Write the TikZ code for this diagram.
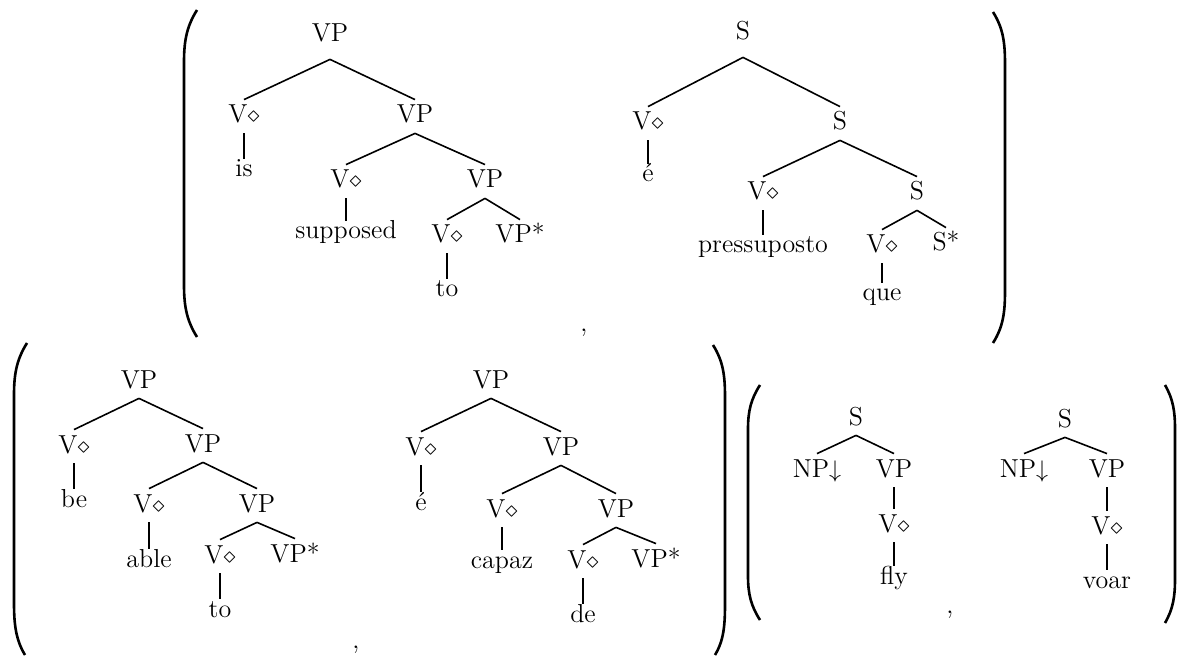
\documentclass[tikz,border=0pt]{standalone}
\usepackage{tikz}

\begin{document}
\begin{tikzpicture}[x=0.5pt,y=-0.5pt,font=\fontsize{13}{15}\selectfont,
 t/.style={anchor=base,inner sep=2.5pt,text height=9pt,text depth=2.5pt},
 w/.style={t,text height=6.5pt},
 top/.style={t,text depth=6pt},
 e/.style={line width=0.8pt},
 br/.style={line width=1.3pt}]
\useasboundingbox (0,0) rectangle (1177,657);
% is supposed to
\node[top] (a0) at (330,42) {VP};
\node[t] (a1) at (244,123) {V$\diamond$};
\node[w] (a2) at (244,177) {is};
\node[t] (a3) at (415,123) {VP};
\node[t] (a4) at (346,188) {V$\diamond$};
\node[w] (a5) at (346,239) {supposed};
\node[t] (a6) at (485,188) {VP};
\node[t] (a7) at (447,243) {V$\diamond$};
\node[t] (a8) at (520,243) {VP*};
\node[w] (a9) at (447,297) {to};
\draw[e] (a0.south) -- (a1.north) (a0.south) -- (a3.north);
\draw[e] (a3.south) -- (a4.north) (a3.south) -- (a6.north);
\draw[e] (a6.south) -- (a7.north) (a6.south) -- (a8.north);
\draw[e] (a1.south) -- (a2.north) (a4.south) -- (a5.north) (a7.south) -- (a9.north);
% e pressuposto que
\node[top] (b0) at (743,40) {S};
\node[t] (b1) at (648,130) {V$\diamond$};
\node[w] (b2) at (648,182) {é};
\node[t] (b3) at (840,130) {S};
\node[t] (b4) at (763,200) {V$\diamond$};
\node[w] (b5) at (763,253) {pressuposto};
\node[t] (b6) at (917,200) {S};
\node[t] (b7) at (882,253) {V$\diamond$};
\node[t] (b8) at (946,251) {S*};
\node[w] (b9) at (882,301) {que};
\draw[e] (b0.south) -- (b1.north) (b0.south) -- (b3.north);
\draw[e] (b3.south) -- (b4.north) (b3.south) -- (b6.north);
\draw[e] (b6.south) -- (b7.north) (b6.south) -- (b8.north);
\draw[e] (b1.south) -- (b2.north) (b4.south) -- (b5.north) (b7.south) -- (b9.north);
\node[anchor=base] (k1) at (584,332) {,};
\draw[br] (197,10) .. controls (187,26) and (184,40) .. (184,62) -- (184,285) .. controls (184,307) and (187,321) .. (197,337);
\draw[br] (993,12) .. controls (1003,28) and (1005,42) .. (1005,64) -- (1005,291) .. controls (1005,313) and (1003,327) .. (993,343);
% be able to
\node[t] (c0) at (139,388) {VP};
\node[t] (c1) at (74,453) {V$\diamond$};
\node[w] (c2) at (74,507) {be};
\node[t] (c3) at (203,452) {VP};
\node[t] (c4) at (149,512) {V$\diamond$};
\node[w] (c5) at (149,567) {able};
\node[t] (c6) at (257,512) {VP};
\node[t] (c7) at (220,563) {V$\diamond$};
\node[t] (c8) at (295,562) {VP*};
\node[w] (c9) at (220,617) {to};
\draw[e] (c0.south) -- (c1.north) (c0.south) -- (c3.north);
\draw[e] (c3.south) -- (c4.north) (c3.south) -- (c6.north);
\draw[e] (c6.south) -- (c7.north) (c6.south) -- (c8.north);
\draw[e] (c1.south) -- (c2.north) (c4.south) -- (c5.north) (c7.south) -- (c9.north);
% e capaz de
\node[t] (d0) at (491,388) {VP};
\node[t] (d1) at (421,455) {V$\diamond$};
\node[w] (d2) at (421,510) {é};
\node[t] (d3) at (561,455) {VP};
\node[t] (d4) at (502,517) {V$\diamond$};
\node[w] (d5) at (502,568) {capaz};
\node[t] (d6) at (616,517) {VP};
\node[t] (d7) at (583,568) {V$\diamond$};
\node[t] (d8) at (656,567) {VP*};
\node[w] (d9) at (583,622) {de};
\draw[e] (d0.south) -- (d1.north) (d0.south) -- (d3.north);
\draw[e] (d3.south) -- (d4.north) (d3.south) -- (d6.north);
\draw[e] (d6.south) -- (d7.north) (d6.south) -- (d8.north);
\draw[e] (d1.south) -- (d2.north) (d4.south) -- (d5.north) (d7.south) -- (d9.north);
\node[anchor=base] (k2) at (356,648) {,};
\draw[br] (27,343) .. controls (17,359) and (14,373) .. (14,395) -- (14,603) .. controls (14,625) and (16,640) .. (25,655);
\draw[br] (713,345) .. controls (723,361) and (725,375) .. (725,397) -- (725,603) .. controls (725,625) and (724,640) .. (715,655);
% fly / voar
\node[t] (f0) at (856,425) {S};
\node[t] (f1) at (817,477) {NP$\downarrow$};
\node[t] (f2) at (894,477) {VP};
\node[t] (f3) at (894,532) {V$\diamond$};
\node[w] (f4) at (894,584) {fly};
\draw[e] (f0.south) -- (f1.north) (f0.south) -- (f2.north);
\draw[e] (f2.south) -- (f3.north) (f3.south) -- (f4.north);
\node[t] (g0) at (1065,427) {S};
\node[t] (g1) at (1024,477) {NP$\downarrow$};
\node[t] (g2) at (1107,477) {VP};
\node[t] (g3) at (1107,534) {V$\diamond$};
\node[w] (g4) at (1107,588) {voar};
\draw[e] (g0.south) -- (g1.north) (g0.south) -- (g2.north);
\draw[e] (g2.south) -- (g3.north) (g3.south) -- (g4.north);
\node[anchor=base] (k3) at (950,613) {,};
\draw[br] (760,385) .. controls (751,399) and (748,411) .. (748,429) -- (748,576) .. controls (748,594) and (751,606) .. (760,620);
\draw[br] (1165,385) .. controls (1173,399) and (1175,411) .. (1175,429) -- (1175,579) .. controls (1175,597) and (1173,609) .. (1165,623);
\end{tikzpicture}
\end{document}
